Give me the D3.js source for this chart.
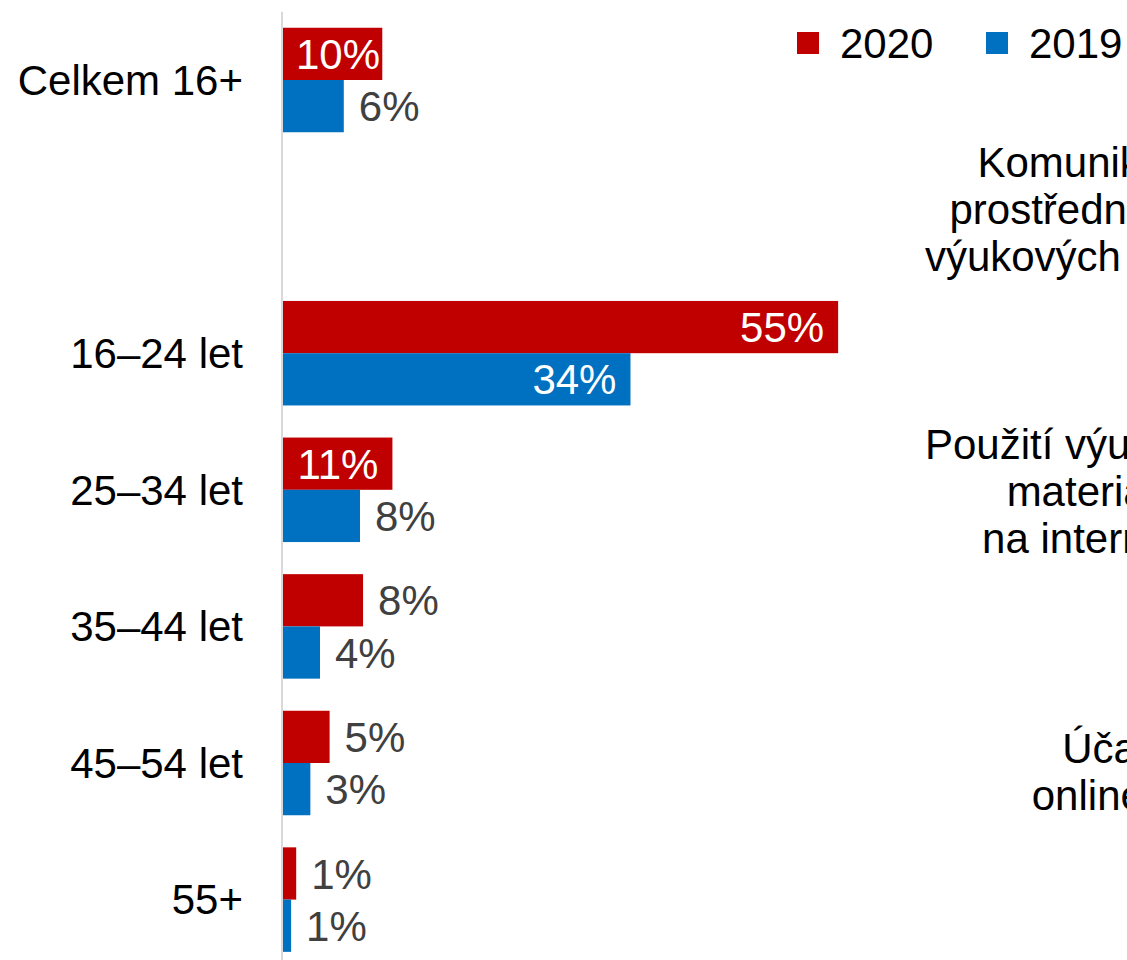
<!DOCTYPE html>
<html lang="cs">
<head>
    <meta charset="UTF-8">
    <title>Online vzdělávání podle věku</title>
    <script src="https://d3js.org/d3.v7.min.js"></script>
    <style>
        body { margin: 0; background: #fff; }
        svg { display: block; font-family: "Liberation Sans", Arial, sans-serif; }
    </style>
</head>
<body>
    <div id="chart"></div>
    <script>
        // Data (shares in %), empty slot between total and age groups
        const categories = ["Celkem 16+", "", "16–24 let", "25–34 let", "35–44 let", "45–54 let", "55+"];
        const values2020 = [9.9, null, 54.9, 10.9, 8.0, 4.7, 1.4];
        const values2019 = [6.1, null, 34.4, 7.7, 3.75, 2.8, 0.9];
        const seriesNames = ["2020", "2019"];
        const seriesColors = ["#C00000", "#0070C0"];

        // Side notes (cut off at the right edge)
        const notes = [
            ["Komunikace", "prostřednictvím", "výukových portálů"],
            ["Použití výukových", "materiálů", "na internetu"],
            ["Účast na", "online kurzu"]
        ];
        const noteTops = [177, 459, 763];
        const noteCenters = [1093, 1093, 1145];

        const width = 1127;
        const height = 960;
        const fontSize = 42;

        const svg = d3.select("#chart").append("svg")
            .attr("width", width)
            .attr("height", height)
            .attr("viewBox", `0 0 ${width} ${height}`);

        // Scales
        const y = d3.scaleBand()
            .domain(categories.map((d, i) => i))
            .range([11.7, 967.9])
            .paddingInner(0.235)
            .paddingOuter(0.1175);

        const ySub = d3.scaleBand()
            .domain(seriesNames)
            .range([0, y.bandwidth()]);

        const x = d3.scaleLinear()
            .domain([0, 100])
            .range([282, 1295]);

        const rows = [];
        categories.forEach((c, i) => {
            if (values2020[i] == null) return;
            rows.push({ cat: i, series: "2020", value: values2020[i], color: seriesColors[0] });
            rows.push({ cat: i, series: "2019", value: values2019[i], color: seriesColors[1] });
        });

        // Bars
        svg.append("g")
            .selectAll("rect")
            .data(rows)
            .join("rect")
            .attr("x", x(0))
            .attr("y", d => y(d.cat) + ySub(d.series))
            .attr("width", d => x(d.value) - x(0))
            .attr("height", ySub.bandwidth())
            .attr("fill", d => d.color);

        // Vertical axis line
        svg.append("line")
            .attr("x1", x(0))
            .attr("x2", x(0))
            .attr("y1", y.range()[0])
            .attr("y2", y.range()[1])
            .attr("stroke", "#d9d9d9")
            .attr("stroke-width", 2);

        // Category labels
        svg.append("g")
            .selectAll("text")
            .data(categories.map((c, i) => ({ c, i })))
            .join("text")
            .attr("x", 243)
            .attr("y", d => y(d.i) + y.bandwidth() / 2)
            .attr("dy", "0.35em")
            .attr("text-anchor", "end")
            .attr("font-size", fontSize)
            .attr("fill", "#000")
            .text(d => d.c);

        // Value labels: inside end when the bar is wide enough, else outside
        const fmt = d => d3.format(".0f")(d) + "%";
        const labels = svg.append("g")
            .selectAll("text")
            .data(rows)
            .join("text")
            .attr("y", d => y(d.cat) + ySub(d.series) + ySub.bandwidth() / 2)
            .attr("dy", "0.36em")
            .attr("font-size", fontSize)
            .text(d => fmt(d.value));

        labels.each(function(d) {
            const t = d3.select(this);
            const w = this.getComputedTextLength();
            const barW = x(d.value) - x(0);
            if (barW >= 95) {
                const end = Math.max(x(d.value) - 14, x(0) + 14 + w);
                t.attr("x", end).attr("text-anchor", "end").attr("fill", "#fff");
            } else {
                t.attr("x", x(d.value) + 15).attr("text-anchor", "start").attr("fill", "#404040");
            }
        });

        // Legend
        const legendX = [797, 986];
        const legend = svg.append("g")
            .selectAll("g")
            .data(seriesNames)
            .join("g")
            .attr("transform", (d, i) => `translate(${legendX[i]},32)`);
        legend.append("rect")
            .attr("width", 22)
            .attr("height", 22)
            .attr("fill", (d, i) => seriesColors[i]);
        legend.append("text")
            .attr("x", 43)
            .attr("y", 11)
            .attr("dy", "0.35em")
            .attr("font-size", fontSize)
            .attr("fill", "#000")
            .text(d => d);

        // Notes on the right, centred lines
        notes.forEach((lines, i) => {
            svg.append("text")
                .attr("x", noteCenters[i])
                .attr("y", noteTops[i])
                .attr("text-anchor", "middle")
                .attr("font-size", fontSize)
                .attr("fill", "#000")
                .selectAll("tspan")
                .data(lines)
                .join("tspan")
                .attr("x", noteCenters[i])
                .attr("dy", (d, j) => j === 0 ? 0 : 47)
                .text(d => d);
        });
    </script>
</body>
</html>
